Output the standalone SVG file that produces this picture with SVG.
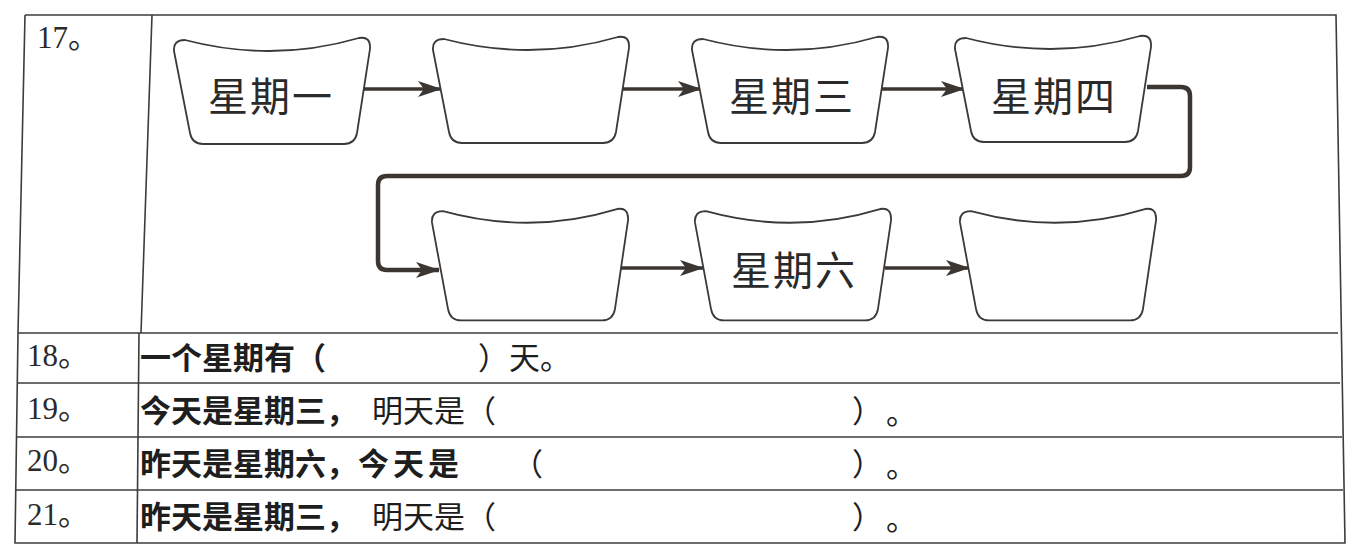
<svg xmlns="http://www.w3.org/2000/svg" xmlns:xlink="http://www.w3.org/1999/xlink" width="1361" height="550" viewBox="0 0 1361 550">
<style>
.grid{fill:none;stroke:#3c3c3c;stroke-width:1.6}
.box{fill:#fff;stroke:#3a3a3a;stroke-width:1.8}
.btxt{font-family:"Noto Sans CJK SC","Noto Sans CJK JP",sans-serif;font-size:40px;fill:#2a2a2a;text-anchor:middle;letter-spacing:2px}
.num{font-family:"Liberation Serif","Noto Sans CJK SC",serif;font-size:31px;fill:#2a2a2a}
.q{font-family:"Noto Sans CJK SC","Noto Sans CJK JP",sans-serif;font-size:31px;fill:#1e1e1e}
.b{font-weight:700}
.conn{fill:none;stroke:#3b3632;stroke-width:3.4}
.loop{fill:none;stroke:#3b3632;stroke-width:4.5;stroke-linejoin:round}
</style>
<defs>
<path id="box" d="M1,14 Q0,3 12,3 Q100,26 186,1 Q198,-1 197,12 L184,96 Q182,107 171,107 L30,107 Q19,107 17,96 Z"/>
<marker id="ah" viewBox="0 0 24 16" refX="23" refY="8" markerWidth="24" markerHeight="16" markerUnits="userSpaceOnUse" orient="auto">
<path d="M0,0 L24,8 L0,16 L6,8 Z" fill="#3b3632"/>
</marker>
</defs>
<rect width="1361" height="550" fill="#fff"/>
<g id="table">
<polyline class="grid" points="25,15 1336,15 1345,543 15,543 18,333 25,15"/>
<line class="grid" x1="18" y1="333" x2="1338" y2="333"/>
<line class="grid" x1="17" y1="383" x2="1340" y2="383"/>
<line class="grid" x1="16" y1="437" x2="1342" y2="437"/>
<line class="grid" x1="16" y1="490" x2="1343" y2="490"/>
<line class="grid" x1="152" y1="15" x2="141" y2="333"/>
<line class="grid" x1="139" y1="333" x2="137" y2="543"/>
</g>
<g id="labels">
<text class="num" x="37" y="48">17。</text>
<text class="num" x="27" y="366">18。</text>
<text class="num" x="27" y="419">19。</text>
<text class="num" x="27" y="471">20。</text>
<text class="num" x="27" y="525">21。</text>
</g>
<g id="connectors">
<line class="conn" x1="358" y1="89" x2="441" y2="89" marker-end="url(#ah)"/>
<line class="conn" x1="620" y1="89" x2="701" y2="89" marker-end="url(#ah)"/>
<line class="conn" x1="880" y1="89" x2="964" y2="89" marker-end="url(#ah)"/>
<path class="loop" d="M1147,87 L1181,87 Q1190,87 1190,96 L1190,167 Q1190,176 1181,176 L387,176 Q378,176 378,185 L378,261 Q378,270 387,270 L439,270" marker-end="url(#ah)"/>
<line class="conn" x1="620" y1="268" x2="703" y2="268" marker-end="url(#ah)"/>
<line class="conn" x1="885" y1="268" x2="969" y2="268" marker-end="url(#ah)"/>
</g>
<g id="node-mon"><use xlink:href="#box" class="box" transform="translate(173,37)"/><text class="btxt" x="271" y="111">星期一</text></g>
<g id="node-tue"><use xlink:href="#box" class="box" transform="translate(432,36)"/></g>
<g id="node-wed"><use xlink:href="#box" class="box" transform="translate(691,36)"/><text class="btxt" x="792" y="111">星期三</text></g>
<g id="node-thu"><use xlink:href="#box" class="box" transform="translate(954,35)"/><text class="btxt" x="1054" y="111">星期四</text></g>
<g id="node-fri"><use xlink:href="#box" class="box" transform="translate(431,208) scale(1,1.05)"/></g>
<g id="node-sat"><use xlink:href="#box" class="box" transform="translate(694,208) scale(1,1.05)"/><text class="btxt" x="794" y="285">星期六</text></g>
<g id="node-sun"><use xlink:href="#box" class="box" transform="translate(959,208) scale(1,1.05)"/></g>
<g id="questions">
<text class="q b" x="140" y="369">一个星期有（</text>
<text class="q" x="478" y="369">）天。</text>
<text class="q b" x="140" y="422">今天是星期三，</text>
<text class="q" x="372" y="422">明天是（</text>
<text class="q" x="852" y="422">）</text>
<text class="q" x="886" y="424" font-size="26">。</text>
<text class="q b" x="140" y="475">昨天是星期六，</text>
<text class="q b" x="358" y="475" letter-spacing="4">今天是</text>
<text class="q" x="512" y="475">（</text>
<text class="q" x="852" y="475">）</text>
<text class="q" x="886" y="477" font-size="26">。</text>
<text class="q b" x="140" y="528">昨天是星期三，</text>
<text class="q" x="372" y="528">明天是（</text>
<text class="q" x="852" y="528">）</text>
<text class="q" x="886" y="530" font-size="26">。</text>
</g>
</svg>
